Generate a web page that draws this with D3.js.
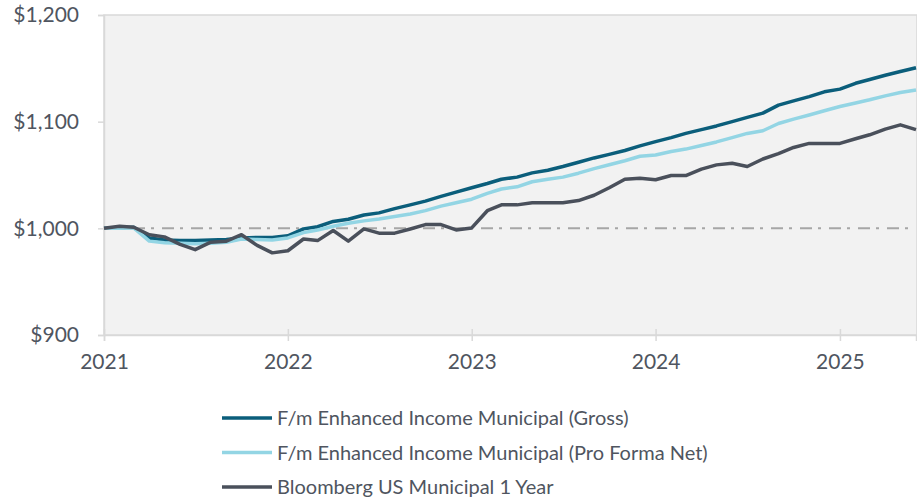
<!DOCTYPE html>
<html>
<head>
<meta charset="utf-8">
<script src="https://cdn.jsdelivr.net/npm/d3@7"></script>
<style>
  body { margin: 0; background: #fff; }
  text { font-family: Lato, "Open Sans", sans-serif; fill: #4f5560; }
</style>
</head>
<body>
<svg id="chart" width="917" height="499"></svg>
<script>
// monthly values, Jan 2021 .. Jun 2025
var startMonth = new Date(2021, 0, 1);
var endMonth = new Date(2025, 5, 1);

var gross = [1000,1000.5,1001,991,989,988.5,988.5,989,989.5,991,
  991.5,991.5,993,999.5,1001.5,1006.5,1008.5,1012.5,1014.5,1018.5,
  1022,1025.5,1030,1034,1038,1042,1046,1048,1052,1054.5,
  1058,1062,1066,1069.3,1073,1077.3,1081.3,1085,1089,1092.5,
  1096,1100,1104,1108,1115.5,1119.5,1123.5,1128,1130.5,1136,
  1139.5,1143.5,1147,1150.5];

var proFormaNet = [1000,1000,1000.5,988,986.5,986,985.5,986,987,990,
  989.5,989,991,996,998.5,1002,1004.7,1007,1008.8,1011,
  1013.5,1016.6,1020.8,1024,1027.3,1032.8,1036.9,1038.9,1043.7,1046,
  1048,1051.7,1056,1059.6,1063.4,1067.6,1068.7,1072,1074.3,1077.7,
  1081,1085,1089,1091.5,1098.3,1102.4,1106.2,1110.2,1114.2,1117.5,
  1120.5,1124.2,1127.3,1129.6];

var bloomberg = [1000,1002,1001,994,992,985,980,987,988,994,
  984,977,979,990,988.5,998,988,999.5,995.5,995.5,
  999.4,1003.5,1003.5,998.5,1000.4,1016.5,1022,1022,1024,1024,
  1024,1026,1031,1038,1046,1047,1045.5,1049.5,1049.5,1055.5,
  1059.5,1061,1058,1065,1070,1075.8,1079.6,1079.6,1079.6,1084,
  1087.7,1093,1097,1092.5];

var seriesNames = ["F/m Enhanced Income Municipal (Gross)",
  "F/m Enhanced Income Municipal (Pro Forma Net)",
  "Bloomberg US Municipal 1 Year"];
var seriesColors = ["#0b5e7b", "#93d5e4", "#4a505b"];
var yTicks = [900, 1000, 1100, 1200];
var baseline = 1000;

var months = d3.timeMonth.range(startMonth, d3.timeMonth.offset(endMonth, 1));
var allSeries = [gross, proFormaNet, bloomberg];

var svg = d3.select("#chart");
var plotLeft = 104, plotRight = 916, plotTop = 15, plotBottom = 335;

var x = d3.scaleTime().domain([startMonth, endMonth]).range([plotLeft, plotRight]);
var y = d3.scaleLinear().domain([900, 1200]).range([plotBottom, plotTop]);

// plot background
svg.append("rect").attr("x", plotLeft).attr("y", plotTop)
  .attr("width", plotRight - plotLeft + 1).attr("height", plotBottom - plotTop)
  .attr("fill", "#f2f2f2").attr("stroke", "#d9d9d9").attr("stroke-width", 1.5);

// y axis
var yAxis = svg.append("g").attr("transform", "translate(" + plotLeft + ",0)")
  .call(d3.axisLeft(y).tickValues(yTicks).tickSize(6).tickPadding(19)
    .tickFormat(function(d){ return "$" + d3.format(",")(d); }));
yAxis.select(".domain").attr("stroke", "#d9d9d9").attr("stroke-width", 1.5);
yAxis.selectAll(".tick line").attr("stroke", "#d9d9d9").attr("stroke-width", 1.5);
yAxis.selectAll(".tick text").attr("font-size", 21).style("fill", "#4f5560")
  .attr("font-family", "Lato");

// x axis
var xAxis = svg.append("g").attr("transform", "translate(0," + plotBottom + ")")
  .call(d3.axisBottom(x).ticks(d3.timeYear.every(1)).tickSize(6).tickPadding(13)
    .tickFormat(d3.timeFormat("%Y")));
xAxis.select(".domain").attr("stroke", "#d9d9d9").attr("stroke-width", 1.5);
xAxis.selectAll(".tick line").attr("stroke", "#d9d9d9").attr("stroke-width", 1.5)
  .attr("y1", -6);
xAxis.selectAll(".tick text").attr("font-size", 21).style("fill", "#4f5560")
  .attr("font-family", "Lato");

// $1,000 reference line
svg.append("line")
  .attr("x1", plotLeft).attr("x2", plotRight)
  .attr("y1", y(baseline)).attr("y2", y(baseline))
  .attr("stroke", "#a6a6a6").attr("stroke-width", 2)
  .attr("stroke-dasharray", "12,6,3,8");

var line = d3.line()
  .x(function(d, i){ return x(months[i]); })
  .y(function(d){ return y(d); });

allSeries.forEach(function(s, k){
  svg.append("path").datum(s)
    .attr("d", line)
    .attr("fill", "none")
    .attr("stroke", seriesColors[k])
    .attr("stroke-width", 3.5)
    .attr("stroke-linejoin", "round");
});

// legend
var legend = svg.append("g");
seriesNames.forEach(function(name, k){
  var ly = 418 + k * 34.5;
  legend.append("line").attr("x1", 222).attr("x2", 272)
    .attr("y1", ly).attr("y2", ly)
    .attr("stroke", seriesColors[k]).attr("stroke-width", 3.5);
  legend.append("text").attr("x", 277).attr("y", ly).attr("dy", "0.35em")
    .attr("font-size", 20).text(name);
});
</script>
</body>
</html>
